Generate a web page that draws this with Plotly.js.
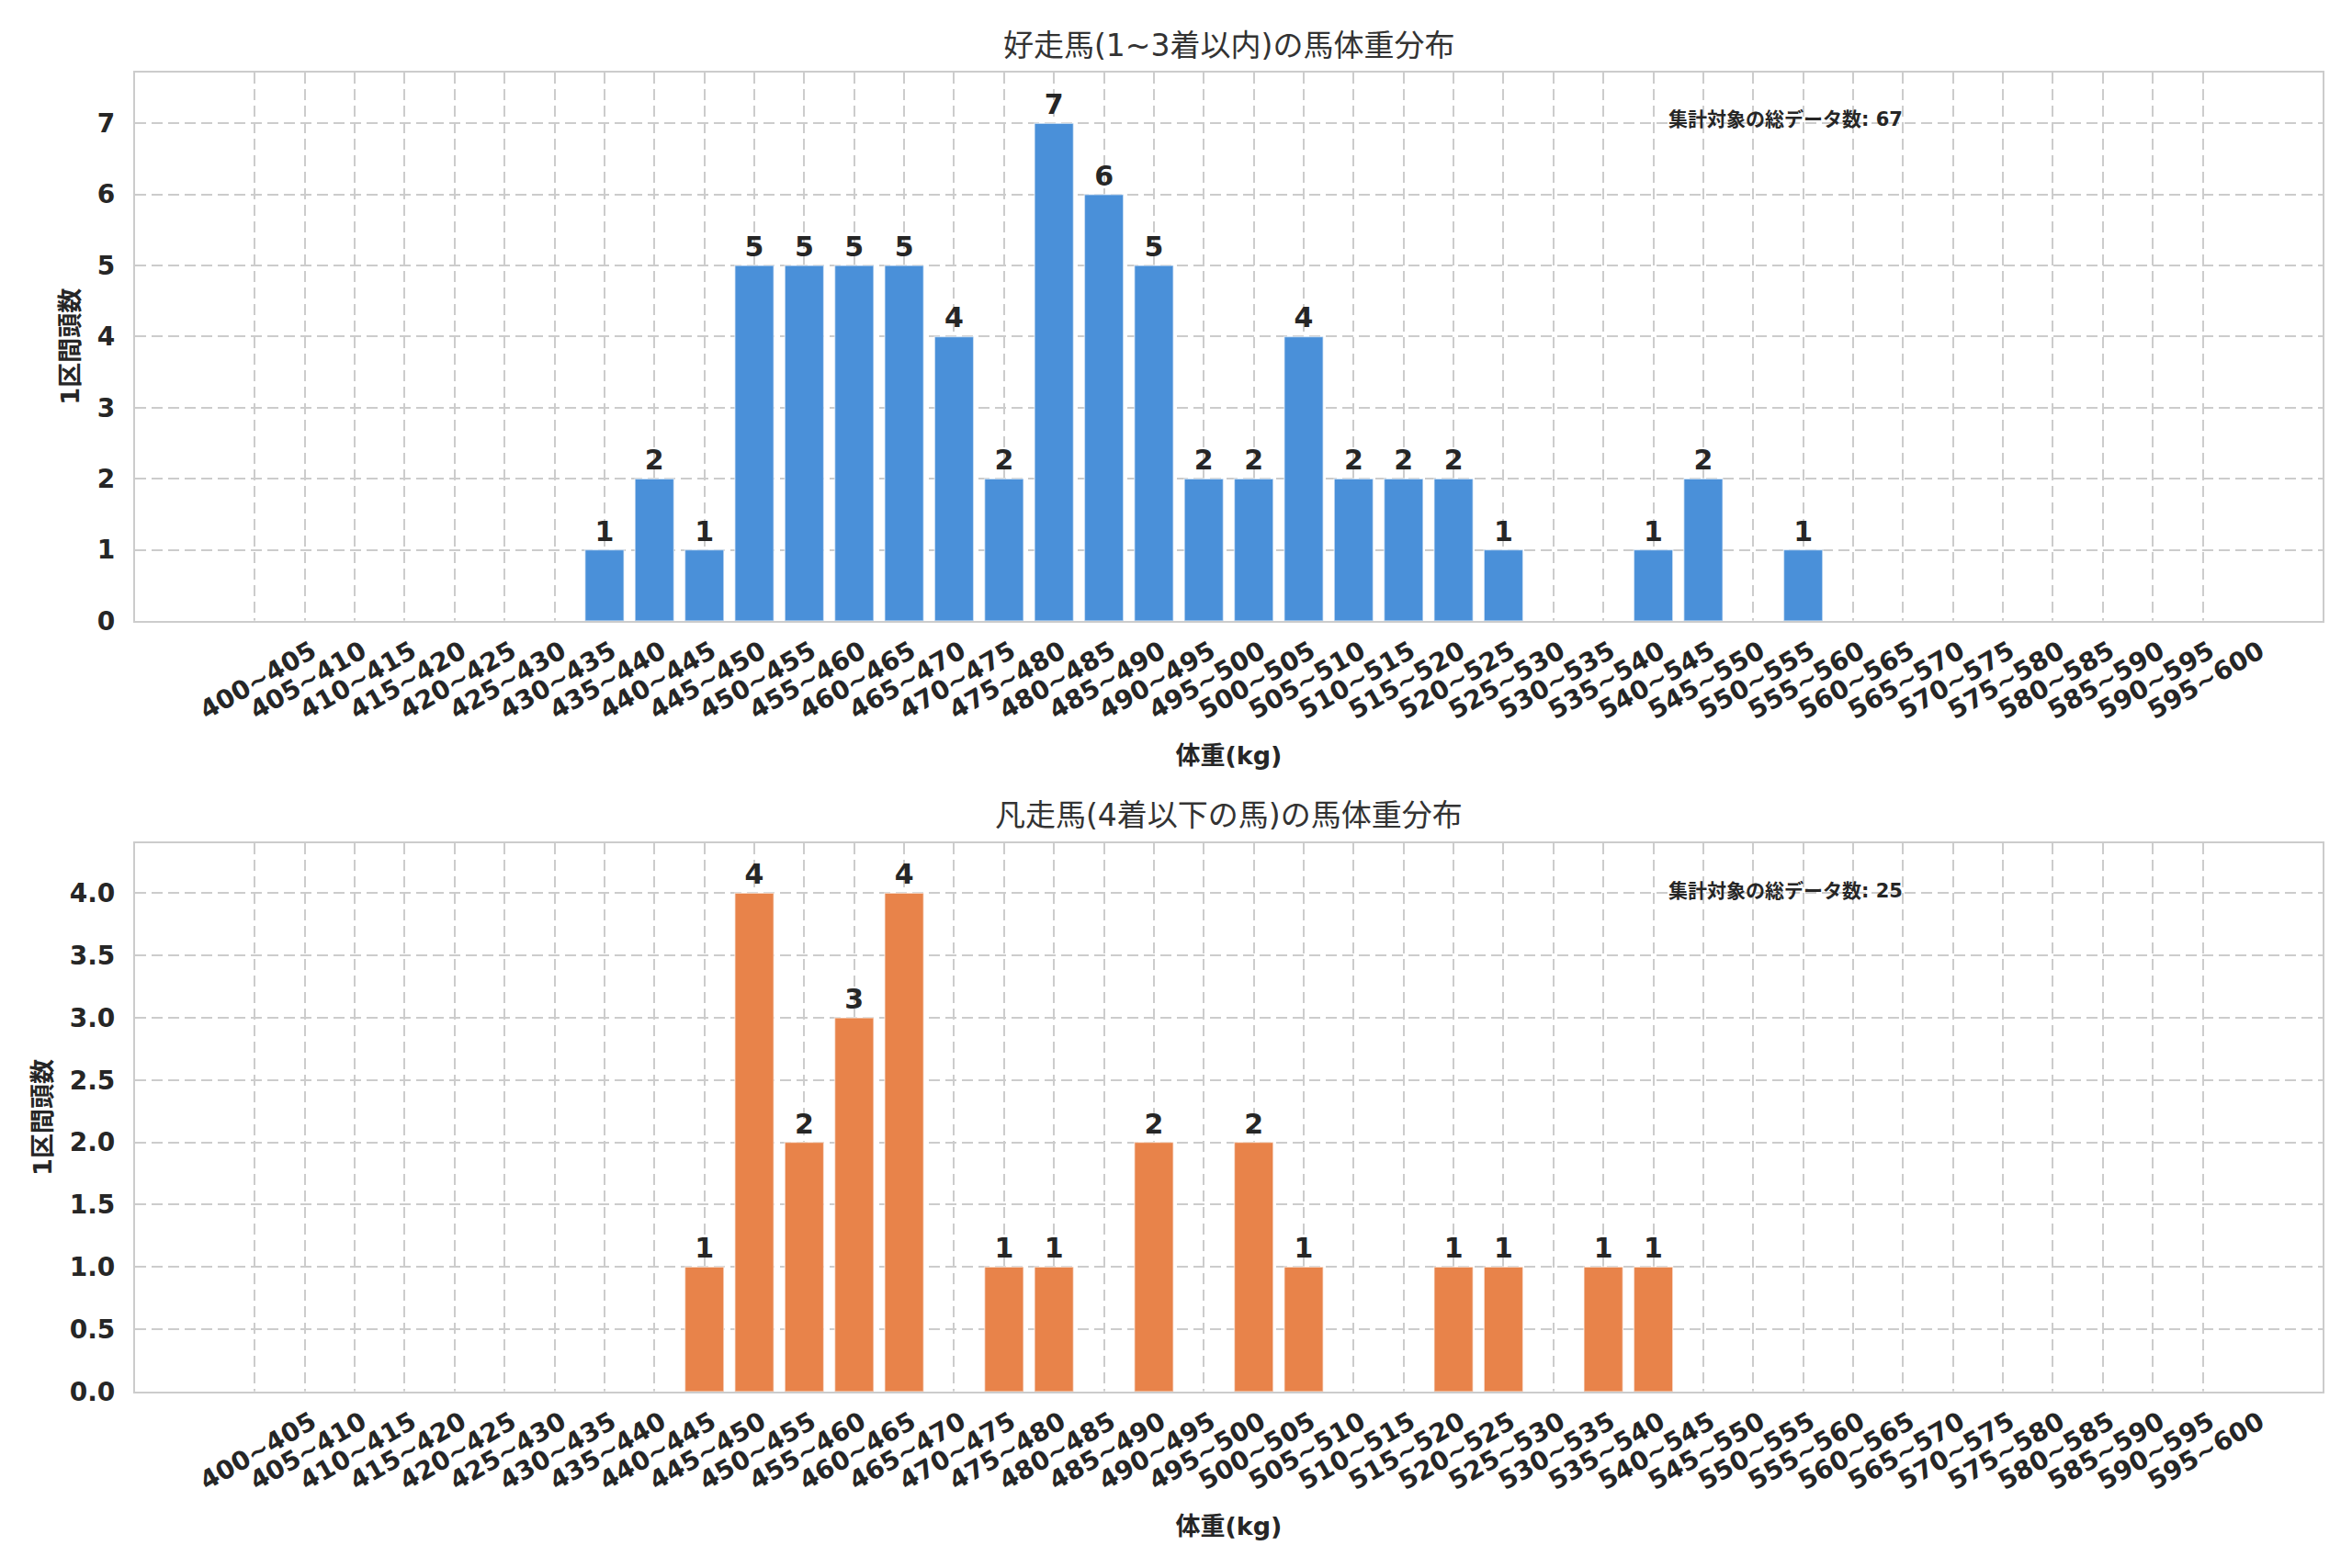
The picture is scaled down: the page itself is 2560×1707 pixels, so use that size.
<!DOCTYPE html>
<html>
<head>
<meta charset="utf-8">
<script src="https://cdn.plot.ly/plotly-3.0.1.min.js"></script>
<style>
  html, body { margin: 0; padding: 0; background: #fff; }
  #chart { width: 2560px; height: 1707px; }
</style>
</head>
<body>
<div id="chart"></div>
<script>
var weightBins = [
  '400~405', '405~410', '410~415', '415~420', '420~425', '425~430', '430~435', '435~440',
  '440~445', '445~450', '450~455', '455~460', '460~465', '465~470', '470~475', '475~480',
  '480~485', '485~490', '490~495', '495~500', '500~505', '505~510', '510~515', '515~520',
  '520~525', '525~530', '530~535', '535~540', '540~545', '545~550', '550~555', '555~560',
  '560~565', '565~570', '570~575', '575~580', '580~585', '585~590', '590~595', '595~600'
];

// 1~3着
var topCounts = [
  0, 0, 0, 0, 0, 0, 0, 1,
  2, 1, 5, 5, 5, 5, 4, 2,
  7, 6, 5, 2, 2, 4, 2, 2,
  2, 1, 0, 0, 1, 2, 0, 1,
  0, 0, 0, 0, 0, 0, 0, 0
];

// 4着以下
var bottomCounts = [
  0, 0, 0, 0, 0, 0, 0, 0,
  0, 1, 4, 2, 3, 4, 0, 1,
  1, 0, 2, 0, 2, 1, 0, 0,
  1, 1, 0, 1, 1, 0, 0, 0,
  0, 0, 0, 0, 0, 0, 0, 0
];

var topTitle = '好走馬(1~3着以内)の馬体重分布';
var bottomTitle = '凡走馬(4着以下の馬)の馬体重分布';
var xLabel = '体重(kg)';
var yLabel = '1区間頭数';
var totalLabel = '集計対象の総データ数';

var FONT = 'DejaVu Sans, "Noto Sans CJK JP", sans-serif';
var INK = '#262626';

function sum(arr) {
  return arr.reduce(function (a, b) { return a + b; }, 0);
}

function barTrace(values, color, xa, ya) {
  return {
    type: 'bar',
    x: weightBins,
    y: values,
    xaxis: xa,
    yaxis: ya,
    width: 0.78,
    marker: { color: color, line: { color: 'rgba(255,255,255,0.55)', width: 1.5 } },
    text: values.map(function (v) { return v > 0 ? String(v) : ''; }),
    textposition: 'outside',
    textfont: { family: FONT, size: 30, color: INK, weight: 'bold' },
    constraintext: 'none',
    cliponaxis: false,
    hoverinfo: 'x+y'
  };
}

function xAxis(anchor) {
  return {
    anchor: anchor,
    domain: [0.0574, 0.9875],
    type: 'category',
    categoryarray: weightBins,
    range: [-2.4, 41.4],
    tickangle: -30,
    ticklabelshift: 62,
    ticklabelstandoff: 4,
    ticks: '',
    tickfont: { family: FONT, size: 28, color: INK, weight: 'bold' },
    showgrid: true,
    gridcolor: '#cccccc',
    gridwidth: 2,
    griddash: '12px,6px',
    showline: true,
    mirror: true,
    linecolor: '#cccccc',
    linewidth: 2,
    zeroline: false,
    title: { text: xLabel, font: { family: FONT, size: 27, color: INK, weight: 'bold' }, standoff: 24 }
  };
}

function yAxis(anchor, domain, range, dtick, fmt) {
  return {
    anchor: anchor,
    domain: domain,
    range: range,
    dtick: dtick,
    tickformat: fmt,
    ticks: '',
    ticklabelstandoff: 14,
    tickfont: { family: FONT, size: 28, color: INK, weight: 'bold' },
    showgrid: true,
    gridcolor: '#cccccc',
    gridwidth: 2,
    griddash: '12px,6px',
    showline: true,
    mirror: true,
    linecolor: '#cccccc',
    linewidth: 2,
    zeroline: false,
    title: { text: yLabel, font: { family: FONT, size: 27, color: INK, weight: 'bold' }, standoff: 11 }
  };
}

var data = [
  barTrace(topCounts, '#4a90d9', 'x', 'y'),
  barTrace(bottomCounts, '#e8834a', 'x2', 'y2')
];

var layout = {
  width: 2560,
  height: 1707,
  margin: { l: 0, r: 0, t: 0, b: 0 },
  paper_bgcolor: '#ffffff',
  plot_bgcolor: '#ffffff',
  showlegend: false,
  xaxis: xAxis('y'),
  yaxis: yAxis('x', [0.604, 0.954], [0, 7.72], 1, 'd'),
  xaxis2: xAxis('y2'),
  yaxis2: yAxis('x2', [0.1125, 0.4622], [0, 4.4], 0.5, '.1f'),
  annotations: [
    {
      text: topTitle, xref: 'paper', yref: 'paper', x: 0.5224, y: 0.971,
      xanchor: 'center', yanchor: 'middle', showarrow: false,
      font: { family: FONT, size: 33, color: '#333333' }
    },
    {
      text: bottomTitle, xref: 'paper', yref: 'paper', x: 0.5224, y: 0.480,
      xanchor: 'center', yanchor: 'middle', showarrow: false,
      font: { family: FONT, size: 33, color: '#333333' }
    },
    {
      text: totalLabel + ': ' + sum(topCounts), xref: 'x domain', yref: 'y domain',
      x: 0.70, y: 0.937, xanchor: 'left', yanchor: 'top', showarrow: false,
      font: { family: FONT, size: 21, color: INK, weight: 'bold' }
    },
    {
      text: totalLabel + ': ' + sum(bottomCounts), xref: 'x2 domain', yref: 'y2 domain',
      x: 0.70, y: 0.937, xanchor: 'left', yanchor: 'top', showarrow: false,
      font: { family: FONT, size: 21, color: INK, weight: 'bold' }
    }
  ]
};

Plotly.newPlot('chart', data, layout, { staticPlot: true });
</script>
</body>
</html>
